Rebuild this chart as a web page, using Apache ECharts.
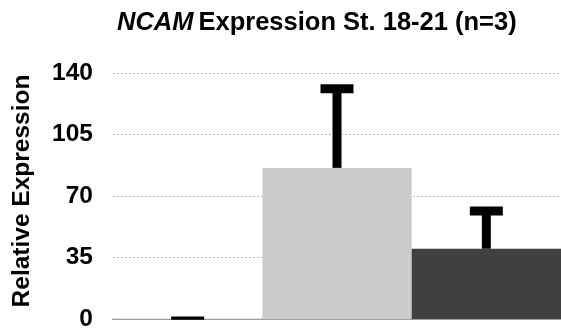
<!DOCTYPE html>
<html>
<head>
<meta charset="utf-8">
<script src="https://cdn.jsdelivr.net/npm/echarts@6/dist/echarts.min.js"></script>
<style>
  html, body { margin: 0; padding: 0; background: #fff; }
  #chart { width: 561px; height: 333px; }
</style>
</head>
<body>
<div id="chart"></div>
<script>
// Groups along the x axis
const categories = ['Control', 'Group A', 'Group B'];
// Mean relative expression per group
const means = [0.4, 86, 40];
// Upper end of the error bar (mean + SD)
const errorTops = [0.5, 131, 61.5];
// Y-axis ticks
const yTicks = [0, 35, 70, 105, 140];
const barColors = ['#ffffff', '#cccccc', '#404040'];

const chart = echarts.init(document.getElementById('chart'));

const font = '"Liberation Sans", Arial, Helvetica, sans-serif';

chart.setOption({
  animation: false,
  title: {
    text: '{i|NCAM} {b|Expression St. 18-21 (n=3)}',
    left: 112,
    top: 5,
    textStyle: {
      rich: {
        i: { fontFamily: font, fontSize: 25.5, fontWeight: 'bold', fontStyle: 'italic', color: '#000' },
        b: { fontFamily: font, fontSize: 25.5, fontWeight: 'bold', color: '#000' }
      }
    }
  },
  grid: { left: 113, right: 0, top: 73, bottom: 14, containLabel: false },
  xAxis: {
    type: 'category',
    data: categories,
    axisLine: { show: true, lineStyle: { color: '#888', width: 1.5 } },
    axisTick: { show: false },
    axisLabel: { show: false }
  },
  yAxis: {
    type: 'value',
    min: yTicks[0],
    max: yTicks[yTicks.length - 1],
    interval: yTicks[1] - yTicks[0],
    name: 'Relative Expression',
    nameLocation: 'middle',
    nameGap: 78,
    nameTextStyle: {
      fontFamily: font, fontSize: 24.5, fontWeight: 'bold', color: '#000',
      padding: [0, 0, 0, 10]
    },
    axisLine: { show: false },
    axisTick: { show: false },
    axisLabel: { fontFamily: font, fontSize: 24.5, fontWeight: 'bold', color: '#000', margin: 20 },
    splitLine: { lineStyle: { color: '#b5b5b5', type: [2, 2], width: 1 } }
  },
  series: [
    {
      type: 'bar',
      barWidth: '100%',
      barCategoryGap: '0%',
      data: means.map((v, i) => ({ value: v, itemStyle: { color: barColors[i] } })),
      z: 2
    },
    {
      type: 'custom',
      z: 3,
      data: means.map((m, i) => [i, m, errorTops[i]]),
      renderItem: function (params, api) {
        const x = api.coord([api.value(0), 0])[0];
        const yBase = api.coord([api.value(0), api.value(1)])[1];
        const yTop = api.coord([api.value(0), api.value(2)])[1];
        const stemLen = Math.max(yBase - yTop, 0);
        const capW = 33, stemW = 9;
        // a vanishing error bar collapses to a thin cap line
        const capH = Math.min(9, 3 + stemLen);
        return {
          type: 'group',
          children: [
            {
              type: 'rect',
              shape: { x: x - stemW / 2, y: yTop, width: stemW, height: stemLen },
              style: { fill: '#000' }
            },
            {
              type: 'rect',
              shape: { x: x - capW / 2, y: yTop - capH / 2, width: capW, height: capH },
              style: { fill: '#000' }
            }
          ]
        };
      }
    }
  ]
});
</script>
</body>
</html>
